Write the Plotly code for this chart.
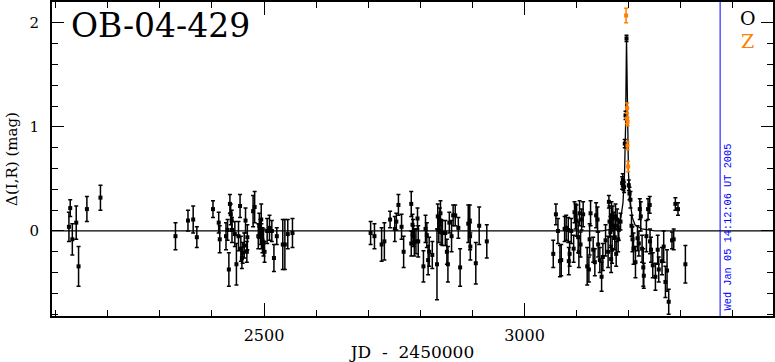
import plotly.graph_objects as go

# ---------------- data ----------------
# Series "O" (black): JD-2450000, Delta mag, error
o_jd = [2125.5, 2128, 2132, 2139.5, 2144, 2160, 2186,
        2330, 2354, 2364, 2371, 2402, 2413, 2415, 2427, 2430, 2432.5, 2434.5, 2436, 2438, 2438.5,
        2444, 2447, 2451, 2454, 2455.5, 2457.5, 2459, 2462, 2464.5, 2467, 2468, 2479, 2482, 2489,
        2491, 2493, 2494.6, 2495, 2497, 2499, 2501, 2506, 2510.5, 2515, 2519, 2524.5, 2536, 2540,
        2545.6, 2554.6,
        2704.6, 2712, 2725.7, 2731, 2742, 2751, 2754, 2758, 2764, 2768, 2782.6, 2782.6, 2785, 2786,
        2787, 2788.5, 2791.6, 2794.6, 2796, 2806, 2810, 2812.5, 2815, 2817, 2823, 2832, 2833.5,
        2835.5, 2837.5, 2838.7, 2840, 2842.5, 2848, 2851, 2853, 2855.7, 2860, 2863, 2867, 2873,
        2876.4, 2892, 2895, 2895.5, 2896, 2906.5, 2913, 2927.6,
        3055.2, 3060.3, 3064.2, 3068, 3070.5, 3077, 3080, 3084, 3085, 3086.6, 3089.7, 3094.3, 3096,
        3098, 3100, 3103, 3104.4, 3105.7, 3107.6, 3109.6, 3112.6, 3120.3, 3123.6, 3125, 3126.8,
        3131.8, 3135, 3137.5, 3140.2, 3141.4, 3144.6, 3148, 3150.4, 3155.6, 3160.5, 3162, 3163.2,
        3165, 3166.3, 3167, 3168.2, 3169.5, 3171.5, 3173.4, 3174.7, 3176, 3177.8, 3179.7, 3181,
        3184.3, 3187.4, 3188.7, 3190, 3191.2, 3192.5, 3193.9, 3195.8, 3200.2, 3201.5, 3203.4,
        3205.4, 3207.3, 3209.2, 3213, 3216.9, 3219.5, 3221.3, 3223.2, 3225.7, 3228, 3229, 3234,
        3237.2, 3240.4, 3241, 3242.9, 3246.2, 3251.3, 3255.7, 3257.7, 3264, 3267.2, 3270.5, 3273.6,
        3276.8, 3283.1, 3286.4, 3289.6, 3294.6, 3308.8]
o_mag = [0.04, 0.22, -0.08, 0.08, -0.34, 0.21, 0.32,
         -0.05, 0.10, 0.11, -0.06, 0.21, 0.08, -0.08, -0.05, 0.01, -0.37, 0.26, 0.16, 0.10, 0.01,
         -0.03, -0.32, -0.05, 0.24, -0.17, -0.26, -0.21, -0.14, 0.10, -0.20, -0.06, 0.19, 0.23, -0.05,
         0.05, -0.01, 0.11, -0.05, -0.09, -0.11, -0.20, 0.00, 0.03, 0.00, -0.26, -0.05, -0.13, -0.13,
         -0.03, -0.02,
         -0.02, -0.05, -0.13, -0.10, 0.11, 0.02, 0.09, 0.25, 0.04, -0.20, 0.26, -0.12, 0.06, -0.01,
         -0.05, -0.11, -0.10, 0.12, -0.10, -0.34, 0.02, -0.04, -0.28, -0.20, -0.23, -0.32, 0.14,
         0.01, 0.10, 0.17, -0.01, -0.02, -0.02, -0.20, -0.32, 0.08, -0.05, 0.15, 0.15, 0.03,
         -0.35, 0.07, 0.10, -0.05, -0.15, -0.31, 0.05, -0.10,
         -0.22, 0.16, 0.00, -0.29, -0.28, 0.02, 0.03, 0.01, -0.29, -0.22, 0.00, -0.17, 0.18,
         0.14, 0.10, -0.06, -0.20, 0.17, -0.13, 0.11, 0.16, -0.34, -0.37, -0.08, 0.17,
         -0.18, -0.30, 0.15, 0.11, -0.13, -0.28, -0.44, -0.25, -0.09, -0.20, 0.28, 0.09,
         -0.01, -0.27, 0.15, -0.18, 0.12, 0.05, -0.06, 0.14, -0.22, 0.11, -0.08, 0.01,
         0.09, 0.46, 0.49, 0.44, 0.42, 0.84, 1.11, 1.85, 0.44, 0.36, 0.30,
         0.05, -0.08, -0.17, -0.30, -0.07, -0.12, 0.21, 0.14, -0.17, -0.35, -0.43, -0.05,
         0.21, 0.25, -0.10, -0.18, -0.33, -0.44, -0.18, -0.37, -0.29, -0.15, -0.49, -0.38,
         -0.68, -0.09, -0.08, 0.26, 0.21, -0.32]
o_err = [0.14, 0.08, 0.15, 0.16, 0.19, 0.12, 0.12,
         0.13, 0.10, 0.13, 0.10, 0.08, 0.10, 0.13, 0.13, 0.10, 0.16, 0.09, 0.10, 0.10, 0.12,
         0.12, 0.20, 0.14, 0.11, 0.12, 0.10, 0.10, 0.12, 0.12, 0.10, 0.12, 0.15, 0.15, 0.12,
         0.12, 0.12, 0.15, 0.12, 0.12, 0.13, 0.10, 0.12, 0.12, 0.10, 0.13, 0.08, 0.24, 0.24,
         0.14, 0.14,
         0.11, 0.12, 0.16, 0.18, 0.08, 0.12, 0.08, 0.10, 0.12, 0.15, 0.12, 0.12, 0.10, 0.12,
         0.10, 0.13, 0.12, 0.10, 0.15, 0.15, 0.13, 0.12, 0.14, 0.14, 0.13, 0.34, 0.12,
         0.12, 0.12, 0.12, 0.12, 0.12, 0.12, 0.12, 0.17, 0.10, 0.15, 0.10, 0.10, 0.10,
         0.18, 0.18, 0.15, 0.13, 0.13, 0.20, 0.18, 0.16,
         0.13, 0.10, 0.12, 0.15, 0.15, 0.12, 0.12, 0.12, 0.13, 0.12, 0.12, 0.13, 0.10,
         0.12, 0.15, 0.15, 0.15, 0.12, 0.12, 0.10, 0.12, 0.18, 0.12, 0.15, 0.12,
         0.12, 0.13, 0.12, 0.12, 0.12, 0.12, 0.14, 0.13, 0.15, 0.15, 0.06, 0.15,
         0.15, 0.13, 0.13, 0.13, 0.12, 0.13, 0.12, 0.12, 0.12, 0.10, 0.12, 0.10,
         0.08, 0.06, 0.06, 0.05, 0.05, 0.04, 0.04, 0.03, 0.05, 0.06, 0.08,
         0.10, 0.12, 0.15, 0.15, 0.12, 0.12, 0.10, 0.14, 0.13, 0.18, 0.12, 0.15,
         0.10, 0.08, 0.12, 0.12, 0.12, 0.13, 0.14, 0.12, 0.13, 0.15, 0.15, 0.20,
         0.12, 0.08, 0.10, 0.06, 0.06, 0.18]

# Series "Z" (orange)
z_jd = [3195.0, 3197.0, 3196.8, 3197.8, 3197.7, 3198.9]
z_mag = [2.07, 1.18, 1.08, 1.05, 0.82, 0.62]
z_err = [0.07, 0.05, 0.05, 0.04, 0.04, 0.05]

# Model curve (black line)
model_jd = [2093, 3150, 3170, 3180, 3185, 3189, 3192, 3194, 3195.8, 3197.6, 3199.6, 3203,
            3207, 3212, 3225, 3250, 3477]
model_mag = [0.0, 0.0, 0.02, 0.06, 0.13, 0.27, 0.55, 1.0, 1.86, 1.0, 0.55, 0.27,
             0.13, 0.06, 0.02, 0.0, 0.0]

date_jd = 3375.5
date_text = "Wed Jan 05 14:12:06 UT 2005"
title_text = "OB-04-429"
x_ticks = [2500, 3000]
y_ticks = [0, 1, 2]

# ---------------- figure ----------------
SERIF = "DejaVu Serif"
ORANGE = "#ff7f00"

fig = go.Figure()
fig.add_trace(go.Scatter(x=model_jd, y=model_mag, mode="lines",
                         line=dict(color="black", width=1.3), hoverinfo="skip"))
fig.add_trace(go.Scatter(x=o_jd, y=o_mag, mode="markers",
                         marker=dict(symbol="square", size=4, color="black"),
                         error_y=dict(type="data", array=o_err, color="black",
                                      thickness=1.5, width=2)))
fig.add_trace(go.Scatter(x=z_jd, y=z_mag, mode="markers",
                         marker=dict(symbol="square", size=4, color=ORANGE),
                         error_y=dict(type="data", array=z_err, color=ORANGE,
                                      thickness=1.5, width=2)))

fig.add_shape(type="line", xref="x", yref="paper", x0=date_jd, x1=date_jd, y0=0, y1=1,
              line=dict(color="blue", width=1))
fig.add_annotation(xref="x", yref="paper", x=date_jd, y=0.01, xanchor="left", yanchor="bottom",
                   text=date_text, textangle=-90, showarrow=False, xshift=0,
                   font=dict(family="Liberation Mono", size=10.3, color="blue"))
fig.add_annotation(xref="paper", yref="paper", x=0.024, y=0.925, xanchor="left", yanchor="middle",
                   text=title_text, showarrow=False,
                   font=dict(family=SERIF, size=33, color="black"))
fig.add_annotation(xref="paper", yref="paper", x=0.965, y=0.948, xanchor="center", yanchor="middle",
                   text="O", showarrow=False, font=dict(family=SERIF, size=19, color="black"))
fig.add_annotation(xref="paper", yref="paper", x=0.965, y=0.875, xanchor="center", yanchor="middle",
                   text="Z", showarrow=False, font=dict(family=SERIF, size=19, color=ORANGE))

fig.update_layout(
    width=775, height=362,
    margin=dict(l=52, r=2, t=2, b=46, autoexpand=False),
    paper_bgcolor="white", plot_bgcolor="white",
    showlegend=False,
    xaxis=dict(range=[2093, 3477], tickvals=x_ticks, ticks="inside", ticklen=13,
               tickwidth=1.2, tickcolor="black", mirror="ticks", showline=True,
               linecolor="black", linewidth=2, showgrid=False, zeroline=False,
               automargin=False,
               minor=dict(dtick=100, tick0=0, ticks="inside", ticklen=6, tickcolor="black",
                          tickwidth=1.2, showgrid=False),
               tickfont=dict(family=SERIF, size=16, color="black"),
               ticklabelstandoff=4,
               title=dict(text="JD\u00a0\u00a0-\u00a0\u00a02450000",
                          font=dict(family=SERIF, size=17, color="black"), standoff=2)),
    yaxis=dict(range=[-0.817, 2.2], tickvals=y_ticks, ticks="inside", ticklen=12,
               tickwidth=1.2, tickcolor="black", mirror="ticks", showline=True,
               linecolor="black", linewidth=2, showgrid=False, zeroline=False,
               automargin=False,
               minor=dict(dtick=0.2, tick0=0, ticks="inside", ticklen=6, tickcolor="black",
                          tickwidth=1.2, showgrid=False),
               tickfont=dict(family=SERIF, size=15, color="black"),
               ticklabelstandoff=8,
               title=dict(text="\u0394(I,R) (mag)",
                          font=dict(family=SERIF, size=15, color="black"), standoff=8)),
)

fig.write_html("out.html", config={"displayModeBar": False},
               post_script="document.body.style.margin='0px';document.body.style.overflow='hidden';")
